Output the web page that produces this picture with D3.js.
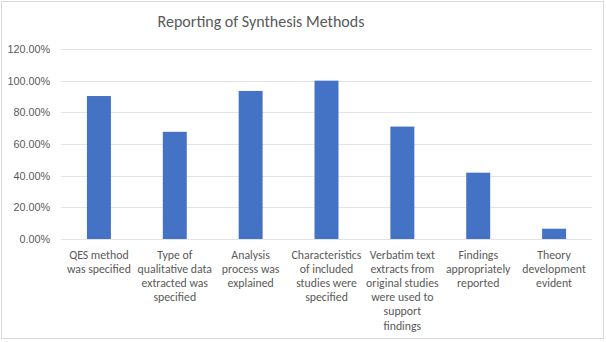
<!DOCTYPE html>
<html>
<head>
<meta charset="utf-8">
<script src="https://cdn.jsdelivr.net/npm/d3@7"></script>
<style>
  body { margin: 0; background: #fff; }
  svg { display: block; font-family: Carlito, "Open Sans", "Liberation Sans", sans-serif; }
</style>
</head>
<body>
<div id="chart"></div>
<script>
// chart data
const categories = [
    "QES method was specified",
    "Type of qualitative data extracted was specified",
    "Analysis process was explained",
    "Characteristics of included studies were specified",
    "Verbatim text extracts from original studies were used to support findings",
    "Findings appropriately reported",
    "Theory development evident"
];
// label lines as they wrap in the original
const labelLines = [
    ["QES method", "was specified"],
    ["Type of", "qualitative data", "extracted was", "specified"],
    ["Analysis", "process was", "explained"],
    ["Characteristics", "of included", "studies were", "specified"],
    ["Verbatim text", "extracts from", "original studies", "were used to", "support", "findings"],
    ["Findings", "appropriately", "reported"],
    ["Theory", "development", "evident"]
];
const values = [0.903, 0.677, 0.935, 1.0, 0.71, 0.419, 0.065];
const yTicks = [0, 0.2, 0.4, 0.6, 0.8, 1.0, 1.2];

const width = 606, height = 342;
const margin = { top: 49, right: 14, bottom: 103, left: 61 };

const svg = d3.select("#chart").append("svg")
    .attr("width", width)
    .attr("height", height);

// outer border
svg.append("rect")
    .attr("x", 1.5).attr("y", 1.5)
    .attr("width", width - 4).attr("height", height - 5)
    .attr("fill", "#fff")
    .attr("stroke", "#d9d9d9");

const x = d3.scaleBand()
    .domain(categories)
    .range([margin.left, width - margin.right])
    .paddingInner(0.684)
    .paddingOuter(0.342);

const y = d3.scaleLinear()
    .domain([0, 1.2])
    .range([height - margin.bottom, margin.top]);

// gridlines
svg.append("g")
    .selectAll("line")
    .data(yTicks)
    .join("line")
    .attr("x1", margin.left)
    .attr("x2", width - margin.right)
    .attr("y1", d => Math.round(y(d)) + 0.5)
    .attr("y2", d => Math.round(y(d)) + 0.5)
    .attr("stroke", "#e3e3e3")
    .attr("stroke-width", 1);

// y axis labels
const yAxis = d3.axisLeft(y)
    .tickValues(yTicks)
    .tickFormat(d => (d * 100).toFixed(2) + "%")
    .tickSize(0)
    .tickPadding(11);

svg.append("g")
    .attr("transform", `translate(${margin.left},0)`)
    .call(yAxis)
    .call(g => g.select(".domain").remove())
    .call(g => g.selectAll("text")
        .attr("fill", "#595959")
        .attr("font-size", "10.8px")
        .style("font-family", "inherit"));

// bars
svg.append("g")
    .selectAll("rect")
    .data(values)
    .join("rect")
    .attr("x", (d, i) => x(categories[i]))
    .attr("y", d => y(d))
    .attr("width", x.bandwidth())
    .attr("height", d => y(0) - y(d))
    .attr("fill", "#4472c4");

// category labels
const labels = svg.append("g")
    .selectAll("text")
    .data(categories)
    .join("text")
    .attr("text-anchor", "middle")
    .attr("fill", "#595959")
    .attr("font-size", "11.8px")
    .attr("x", d => x(d) + x.bandwidth() / 2)
    .attr("y", y(0) + 19.5);

labels.selectAll("tspan")
    .data((d, i) => labelLines[i])
    .join("tspan")
    .attr("x", function () { return d3.select(this.parentNode).attr("x"); })
    .attr("dy", (d, i) => i === 0 ? 0 : 14.2)
    .text(d => d);

// title
svg.append("text")
    .attr("x", 261)
    .attr("y", 27)
    .attr("text-anchor", "middle")
    .attr("fill", "#595959")
    .attr("font-size", "16px")
    .text("Reporting of Synthesis Methods");
</script>
</body>
</html>
